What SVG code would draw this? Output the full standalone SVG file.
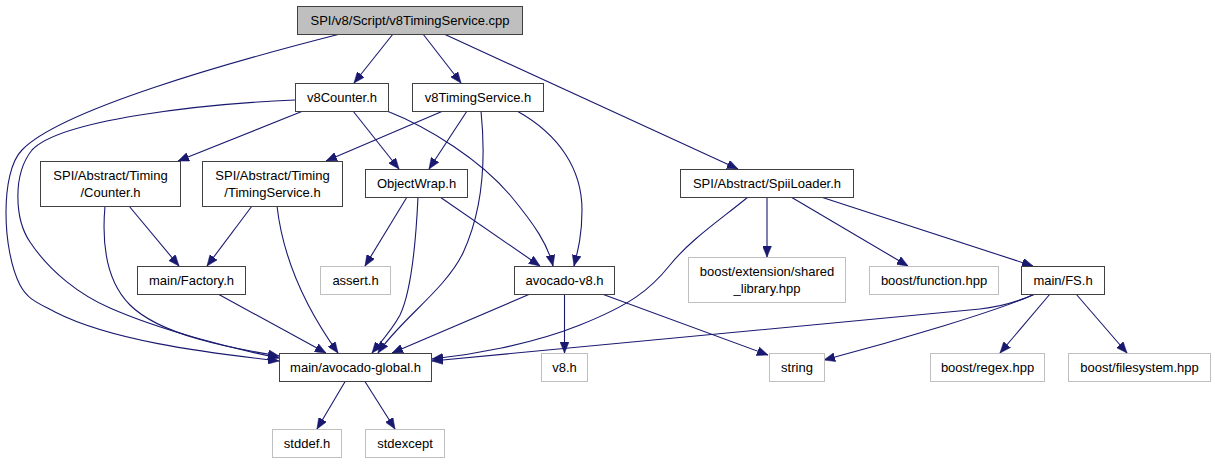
<svg xmlns="http://www.w3.org/2000/svg" width="1215" height="464" viewBox="0 0 1215 464">
<style>
.n rect{fill:#fff;stroke:#404040;stroke-width:1}
.g rect{fill:#fff;stroke:#bfbfbf;stroke-width:1}
.r rect{fill:#bfbfbf;stroke:#404040;stroke-width:1}
text{font-family:"Liberation Sans",Arial,sans-serif;font-size:13px;fill:#000;text-anchor:middle}
#edges path{fill:none;stroke:#191970;stroke-width:1.1;marker-end:url(#ah)}
</style>
<defs>
<marker id="ah" markerUnits="userSpaceOnUse" markerWidth="11" markerHeight="9" viewBox="0 0 11 9" refX="11" refY="4.5" orient="auto">
<path d="M0,0 L11,4.5 L0,9 z" fill="#191970" stroke="#191970" stroke-width="0.5"/>
</marker>
</defs>
<rect width="1215" height="464" fill="#fff"/>
<g id="edges">
<path d="M340,34 C230,62 60,110 22,150 C0,172 2,250 20,285 C28,300 38,303 55,312 C110,340 200,352 279,361"/>
<path d="M393,34 L354,83"/>
<path d="M423,34 L461,83"/>
<path d="M444,34 L738,169"/>
<path d="M295,100 C200,104 60,120 32,150 C12,175 15,220 30,242 C50,272 80,295 110,308 C160,330 230,348 279,358"/>
<path d="M303,111 L178,161"/>
<path d="M353,111 L399,169"/>
<path d="M387,111 C430,128 480,160 510,195 C535,225 548,245 553,266"/>
<path d="M443,111 L326,161"/>
<path d="M467,111 L429,169"/>
<path d="M481,111 C486,160 483,210 463,253 C445,290 400,320 378,353"/>
<path d="M517,111 C560,135 582,170 582,210 C582,235 578,250 574,266"/>
<path d="M129,206 L179,266"/>
<path d="M105,206 C102,240 105,280 130,305 C160,335 230,348 279,356"/>
<path d="M252,206 L207,266"/>
<path d="M277,206 C282,250 300,300 338,353"/>
<path d="M407,197 L365,266"/>
<path d="M418,197 C416,240 412,290 400,315 C392,330 380,343 372,353"/>
<path d="M440,197 L540,266"/>
<path d="M748,197 C720,220 690,240 670,265 C650,290 630,305 580,325 C530,345 470,355 432,359"/>
<path d="M767,197 L767,257"/>
<path d="M791,197 L908,266"/>
<path d="M821,197 L1033,266"/>
<path d="M218,294 L326,353"/>
<path d="M530,294 L392,353"/>
<path d="M564.5,294 L564.5,353"/>
<path d="M602,294 L768,355"/>
<path d="M1035,294 C1015,303 1000,307 980,309 L432,361"/>
<path d="M1035,294 C1000,310 900,340 824,360"/>
<path d="M1050,294 L1000,353"/>
<path d="M1076,294 L1127,353"/>
<path d="M346,380 L317,429"/>
<path d="M364,380 L395,429"/>
</g>
<g id="root" class="r"><rect x="297.5" y="6.5" width="225" height="28"/><text x="410" y="25">SPI/v8/Script/v8TimingService.cpp</text></g>
<g id="v8Counter" class="n"><rect x="295.5" y="83.5" width="93" height="28"/><text x="342" y="102">v8Counter.h</text></g>
<g id="v8TimingService" class="n"><rect x="412.5" y="83.5" width="131" height="28"/><text x="478" y="102">v8TimingService.h</text></g>
<g id="Counter" class="n"><rect x="40.5" y="161.5" width="140" height="45"/><text x="110.5" y="180">SPI/Abstract/Timing</text><text x="110.5" y="196.5">/Counter.h</text></g>
<g id="TimingService" class="n"><rect x="202.5" y="161.5" width="140" height="45"/><text x="272.5" y="180">SPI/Abstract/Timing</text><text x="272.5" y="196.5">/TimingService.h</text></g>
<g id="ObjectWrap" class="n"><rect x="365.5" y="169.5" width="102" height="28"/><text x="416.5" y="188">ObjectWrap.h</text></g>
<g id="SpiiLoader" class="n"><rect x="680.5" y="169.5" width="173" height="28"/><text x="767" y="188">SPI/Abstract/SpiiLoader.h</text></g>
<g id="Factory" class="n"><rect x="137.5" y="266.5" width="108" height="28"/><text x="191.5" y="285">main/Factory.h</text></g>
<g id="assert" class="g"><rect x="320.5" y="266.5" width="70" height="28"/><text x="355.5" y="285">assert.h</text></g>
<g id="avocadov8" class="n"><rect x="514.5" y="266.5" width="100" height="28"/><text x="564.5" y="285">avocado-v8.h</text></g>
<g id="shared" class="g"><rect x="688.5" y="257.5" width="157" height="45"/><text x="767" y="276">boost/extension/shared</text><text x="767" y="292.5">_library.hpp</text></g>
<g id="function" class="g"><rect x="869.5" y="266.5" width="129" height="28"/><text x="934" y="285">boost/function.hpp</text></g>
<g id="FS" class="n"><rect x="1021.5" y="266.5" width="83" height="28"/><text x="1063" y="285">main/FS.h</text></g>
<g id="global" class="n"><rect x="279.5" y="353.5" width="152" height="28"/><text x="355.5" y="372">main/avocado-global.h</text></g>
<g id="v8h" class="g"><rect x="541.5" y="353.5" width="46" height="28"/><text x="564.5" y="372">v8.h</text></g>
<g id="string" class="g"><rect x="769.5" y="353.5" width="55" height="28"/><text x="797" y="372">string</text></g>
<g id="regex" class="g"><rect x="930.5" y="353.5" width="114" height="28"/><text x="987.5" y="372">boost/regex.hpp</text></g>
<g id="filesystem" class="g"><rect x="1068.5" y="353.5" width="142" height="28"/><text x="1139.5" y="372">boost/filesystem.hpp</text></g>
<g id="stddef" class="g"><rect x="272.5" y="429.5" width="69" height="28"/><text x="307" y="448">stddef.h</text></g>
<g id="stdexcept" class="g"><rect x="365.5" y="429.5" width="79" height="28"/><text x="405" y="448">stdexcept</text></g>
</svg>
